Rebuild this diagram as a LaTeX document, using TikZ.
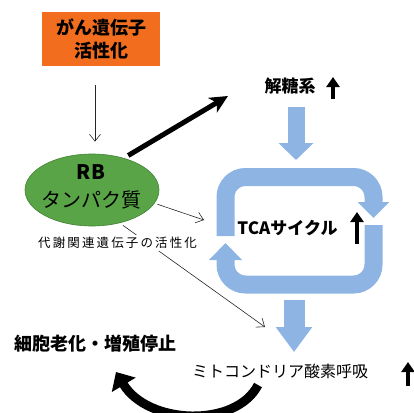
\documentclass[tikz,border=0pt]{standalone}
\usepackage{fontspec}
\setmainfont{Noto Sans CJK JP}
\usetikzlibrary{arrows.meta,shapes.geometric}
\definecolor{onc}{RGB}{242,110,30}
\definecolor{grn}{RGB}{88,164,70}
\definecolor{grnd}{RGB}{66,130,52}
\definecolor{cyc}{RGB}{141,180,226}
\begin{document}
\begin{tikzpicture}[x=1pt,y=-1pt,
  lbl/.style={inner sep=1pt},
  thinarr/.style={draw=black!85, line width=0.6pt, -{Straight Barb[length=7pt,width=11pt]}},
  band/.style={draw=cyc, line width=18pt, rounded corners=20pt},
  uparr/.style={draw=black, line width=3.6pt, -{Triangle[length=10pt,width=13pt]}},
  bigarr/.style={draw=black, line width=5pt, -{Stealth[length=18pt,width=17pt,inset=5pt]}},
]
\useasboundingbox (0,0) rectangle (414,412);

% blue arrows and cycle
\coordinate (b1s) at (296,107);
\coordinate (b1e) at (296,160);
\draw[draw=cyc, line width=17pt, -{Triangle[length=17pt,width=34pt]}] (b1s) -- (b1e);
\draw[band, -{Triangle[length=16pt,width=31pt]}] (225.5,236) -- (225.5,177) -- (373.5,177) -- (373.5,218);
\draw[band, -{Triangle[length=17pt,width=32pt]}] (373.5,225) -- (373.5,284.5) -- (225.5,284.5) -- (225.5,243);
\coordinate (b2s) at (294,300);
\coordinate (b2e) at (294,352);
\draw[draw=cyc, line width=21pt, -{Triangle[length=25pt,width=35pt]}] (b2s) -- (b2e);

% nodes
\node[fill=onc, minimum width=118pt, minimum height=54pt, inner sep=0pt,
      font=\fontsize{18}{23}\selectfont\bfseries, align=center] (onco) at (101,39) {がん遺伝子\\活性化};
\node[ellipse, fill=grn, draw=grnd, line width=0.6pt, minimum width=134pt, minimum height=72pt, inner sep=0pt] (rb) at (92,190) {};
\node[lbl, font=\fontsize{20}{28}\selectfont, align=center] (rbt) at (91,187) {\textbf{RB}\\タンパク質};
\node[lbl, font=\fontsize{17}{20}\selectfont\bfseries] (glyc) at (290,86) {解糖系};
\node[lbl, font=\fontsize{17}{20}\selectfont\bfseries] (tca) at (287.5,228) {TCAサイクル};
\node[lbl, font=\fontsize{16}{20}\selectfont] (mito) at (280,371) {ミトコンドリア酸素呼吸};
\node[lbl, font=\fontsize{18}{22}\selectfont\bfseries] (sen) at (95,344) {細胞老化・増殖停止};

% connectors
\coordinate (glycIn) at (228,96);
\coordinate (tcaIn) at (204,220);
\coordinate (mitoIn) at (265,327);
\coordinate (mitoOut) at (258,385);
\coordinate (senIn) at (116,372);
\draw[thinarr] ([xshift=-6pt,yshift=-19pt]onco.south) -- ([xshift=3pt,yshift=12pt]rb.north);
\draw[bigarr, shorten <=5pt] (rb.45) -- (glycIn);
\draw[thinarr, shorten <=3pt] (rb.-12) -- (tcaIn);
\draw[thinarr, shorten <=4pt] (rb.-50) -- (mitoIn);
\node[fill=white, inner sep=2pt, font=\fontsize{12.5}{15}\selectfont\addfontfeature{LetterSpace=17}] (metab) at (117.5,243) {代謝関連遺伝子の活性化};
\draw[draw=black, line width=9pt, -{Triangle[length=15pt,width=27pt]}] (mitoOut) .. controls (236,428) and (148,425) .. (senIn);

% up arrows
\draw[uparr] (333,99) -- (333,77);
\draw[uparr] (357,244) -- (357,212);
\draw[uparr] (408,386) -- (408,362);
\end{tikzpicture}
\end{document}
